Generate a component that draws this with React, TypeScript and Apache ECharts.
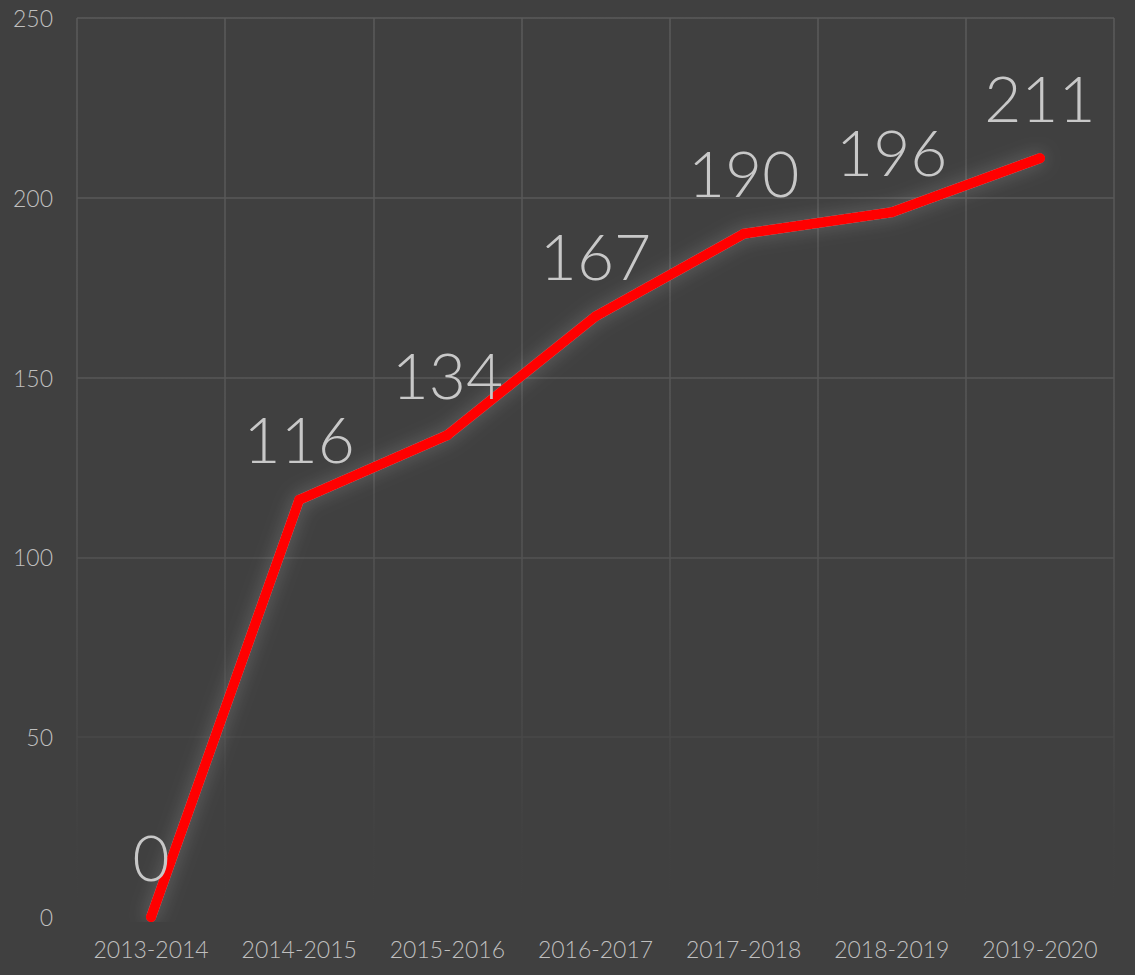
import React, { useEffect, useRef } from "react";
import * as echarts from "echarts";

const categories = ["2013-2014", "2014-2015", "2015-2016", "2016-2017", "2017-2018", "2018-2019", "2019-2020"];
const values = [0, 116, 134, 167, 190, 196, 211];
const yMin = 0;
const yMax = 250;
const yInterval = 50;

export default function App() {
  const ref = useRef<HTMLDivElement>(null);
  useEffect(() => {
    if (!ref.current) return;
    const chart = echarts.init(ref.current, undefined, { renderer: "svg" });
    const fade = () =>
      new echarts.graphic.LinearGradient(
        0, 18, 0, 917,
        [
          { offset: 0, color: "#5a5a5a" },
          { offset: 0.55, color: "#555555" },
          { offset: 0.8, color: "#484848" },
          { offset: 0.92, color: "#414141" },
          { offset: 1, color: "#404040" },
        ],
        true
      );
    chart.setOption({
      animation: false,
      backgroundColor: "#404040",
      grid: { left: 77, right: 21, top: 18, bottom: 58, containLabel: false },
      xAxis: {
        type: "category",
        data: categories,
        boundaryGap: true,
        axisLine: { show: false },
        axisTick: { show: false },
        axisLabel: { interval: 0, color: "#bfbfbf", fontSize: 23, fontFamily: "Lato", fontWeight: 300, margin: 20 },
        splitLine: { show: true, interval: 0, lineStyle: { color: fade(), width: 1.5 } },
      },
      yAxis: {
        type: "value",
        min: yMin,
        max: yMax,
        interval: yInterval,
        axisLine: { show: false },
        axisTick: { show: false },
        axisLabel: { color: "#bfbfbf", fontSize: 23, fontFamily: "Lato", fontWeight: 300, margin: 24 },
        splitLine: { show: true, lineStyle: { color: fade(), width: 1.5 } },
      },
      series: [
        {
          type: "line",
          data: values,
          symbol: "circle",
          symbolSize: 10,
          itemStyle: { color: "#ff0000" },
          lineStyle: {
            color: "#ff0000",
            width: 10,
            cap: "round",
            join: "round",
            shadowColor: "rgba(255,255,255,0.22)",
            shadowBlur: 18,
          },
          label: {
            show: true,
            position: "top",
            distance: 24,
            color: "#c8c8c8",
            fontSize: 64,
            fontFamily: "Lato",
            fontWeight: 300,
          },
        },
      ],
    });
    return () => chart.dispose();
  }, []);
  return <div ref={ref} style={{ position: "absolute", left: 0, top: 0, width: 1135, height: 975 }} />;
}
